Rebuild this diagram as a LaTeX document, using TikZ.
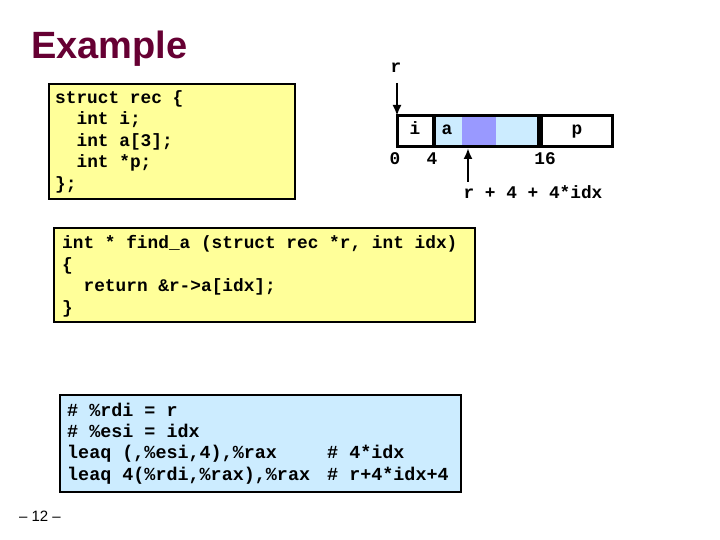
\documentclass[tikz,border=0pt]{standalone}
\usepackage{fontspec}
\setmainfont{Liberation Sans}
\setsansfont{Liberation Sans}
\setmonofont{Liberation Mono}
\usetikzlibrary{arrows.meta}
\definecolor{titlered}{HTML}{660033}
\definecolor{codeyellow}{HTML}{FFFF99}
\definecolor{codeblue}{HTML}{CCECFF}
\definecolor{darkblue}{HTML}{9999FF}
\tikzset{
  codebox/.style={draw=black, line width=1.4pt, outer sep=0pt, inner sep=0pt, anchor=north west},
  codeline/.style={anchor=base west, inner sep=0pt, font=\ttfamily\bfseries\fontsize{17.8}{21.5}\selectfont},
  asmline/.style={anchor=base west, inner sep=0pt, font=\ttfamily\bfseries\fontsize{18.4}{21.5}\selectfont},
  memlabel/.style={anchor=base, inner sep=0pt, font=\ttfamily\bfseries\fontsize{17.8}{21.5}\selectfont},
  ptr/.style={line width=2.2pt, -{Latex[length=11pt,width=9pt]}}
}
\begin{document}
\begin{tikzpicture}[x=1pt,y=-1pt]
\useasboundingbox (0,0) rectangle (720,540);
\fill[white] (0,0) rectangle (720,540);

% title
\node (title) [anchor=base west, inner sep=0pt, text=titlered,
  font=\sffamily\bfseries\fontsize{38}{42}\selectfont] at (31,59) {Example};

% struct box
\node (structbox) [codebox, fill=codeyellow, minimum width=246pt, minimum height=115pt] at (49,84) {};
\node (s1) [codeline] at (55,103.5) {struct rec \{};
\node (s2) [codeline] at (76.4,125) {int i;};
\node (s3) [codeline] at (76.4,146.5) {int a[3];};
\node (s4) [codeline] at (76.4,168) {int *p;};
\node (s5) [codeline] at (55,189.5) {\};};

% function box
\node (funcbox) [codebox, fill=codeyellow, minimum width=421pt, minimum height=94pt] at (54,228) {};
\node (f1) [codeline] at (62,248) {int * find\_a (struct rec *r, int idx)};
\node (f2) [codeline] at (62,270) {\{};
\node (f3) [codeline] at (83.4,291.5) {return \&r->a[idx];};
\node (f4) [codeline] at (62,313) {\}};

% asm box
\node (asmbox) [codebox, fill=codeblue, minimum width=401pt, minimum height=97pt] at (60,395) {};
\node (a1) [asmline] at (67,416) {\# \%rdi = r};
\node (a2) [asmline] at (67,437) {\# \%esi = idx};
\node (a3) [asmline] at (67,458.5) {leaq (,\%esi,4),\%rax};
\node (a3c) [asmline] at (327,458.5) {\# 4*idx};
\node (a4) [asmline] at (67,480) {leaq 4(\%rdi,\%rax),\%rax};
\node (a4c) [asmline] at (327,480) {\# r+4*idx+4};

% memory layout
\fill[white] (397,116) rectangle (612,147);
\fill[codeblue] (434,116) rectangle (540,147);
\fill[darkblue] (462,116) rectangle (496,147);
\draw[line width=4pt] (434,116) -- (434,147);
\draw[line width=6pt] (540,116) -- (540,147);
\node (mem) [draw=black, line width=3pt, outer sep=0pt, inner sep=0pt, anchor=north west,
  minimum width=215pt, minimum height=31pt] at (397,116) {};

\node (li) [memlabel] at (415,135) {i};
\node (la) [memlabel] at (447,135) {a};
\node (lp) [memlabel] at (577,135) {p};
\node (o0) [memlabel] at (395,165) {0};
\node (o4) [memlabel] at (432,165) {4};
\node (o16) [memlabel] at (545,165) {16};
\node (rlab) [memlabel] at (396,73) {r};
\node (idxlab) [memlabel] at (533,199) {r + 4 + 4*idx};

\coordinate (rtail) at (397,83);
\draw[ptr] (rtail) -- (mem.north west);
\coordinate (idxtail) at (468,182);
\coordinate (idxhead) at (468,148);
\draw[ptr] (idxtail) -- (idxhead);

% page number
\node (pagenum) [anchor=base, inner sep=0pt, font=\sffamily\fontsize{15}{17}\selectfont] at (40,521) {– 12 –};
\end{tikzpicture}
\end{document}
